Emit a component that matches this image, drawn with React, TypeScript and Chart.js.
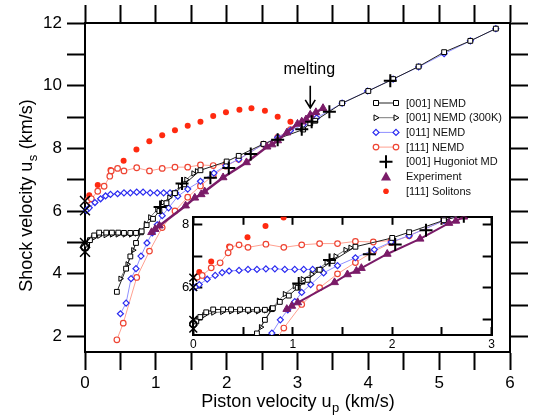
import React, { useEffect, useRef } from 'react';
import { Chart, registerables } from 'chart.js';
Chart.register(...registerables);

const FONT = '"Liberation Sans", Arial, Helvetica, sans-serif';

// ---------------- data: piston velocity u_p (km/s) vs shock velocity u_s (km/s) -------------
const NEMD001_EL_X = [0.03, 0.07, 0.13, 0.2, 0.3, 0.38, 0.47, 0.55, 0.64, 0.72, 0.79];
const NEMD001_EL_Y = [4.93, 5.07, 5.22, 5.31, 5.31, 5.31, 5.31, 5.3, 5.3, 5.3, 5.32];
const NEMD001_PL_X = [0.45, 0.58, 0.64, 0.72, 0.8, 0.87, 0.96, 1.05, 1.15, 1.27, 1.4, 1.63, 2.0, 2.17, 2.52, 3.08, 3.18, 3.25, 3.63, 4.0, 4.35, 4.71, 5.07, 5.44, 5.8];
const NEMD001_PL_Y = [3.42, 4.16, 4.55, 4.98, 5.35, 5.55, 5.75, 6.0, 6.25, 6.57, 6.85, 7.3, 7.58, 7.76, 8.14, 8.6, 8.8, 8.88, 9.44, 9.83, 10.21, 10.61, 11.07, 11.43, 11.82];

const NEMD300_EL_X = [0.05, 0.11, 0.2, 0.29, 0.38, 0.46, 0.56, 0.65, 0.73, 0.79];
const NEMD300_EL_Y = [5.01, 5.13, 5.21, 5.23, 5.25, 5.25, 5.25, 5.25, 5.28, 5.35];
const NEMD300_PL_X = [0.5, 0.6, 0.68, 0.79, 0.86, 0.92, 1.02, 1.1, 1.19, 1.25, 1.34, 1.43, 1.53, 1.58];
const NEMD300_PL_Y = [3.84, 4.3, 4.75, 5.35, 5.59, 5.8, 6.05, 6.27, 6.43, 6.56, 6.8, 7.0, 7.2, 7.27];

const NEMD011_EL_X = [0.02, 0.06, 0.14, 0.22, 0.29, 0.36, 0.46, 0.55, 0.64, 0.73, 0.82, 0.92, 1.02, 1.11, 1.2, 1.28];
const NEMD011_EL_Y = [6.02, 6.1, 6.27, 6.39, 6.48, 6.53, 6.55, 6.58, 6.58, 6.6, 6.6, 6.58, 6.58, 6.58, 6.58, 6.58];
const NEMD011_PL_X = [0.5, 0.58, 0.65, 0.72, 0.79, 0.875, 0.95, 1.02, 1.09, 1.18, 1.31, 1.45, 1.63, 1.82, 1.99, 2.17, 2.52, 2.72, 2.9, 3.08, 3.27, 3.63, 3.99, 4.35, 4.71, 5.07, 5.44, 5.8];
const NEMD011_PL_Y = [2.72, 3.06, 3.84, 4.16, 4.56, 4.98, 5.3, 5.56, 5.85, 6.1, 6.47, 6.7, 6.95, 7.21, 7.45, 7.65, 8.13, 8.35, 8.57, 8.75, 8.97, 9.44, 9.83, 10.21, 10.6, 11.02, 11.43, 11.82];

const NEMD111_EL_X = [0.04, 0.09, 0.18, 0.27, 0.35, 0.37, 0.46, 0.55, 0.73, 0.91, 1.09, 1.27, 1.45, 1.63, 1.81, 1.99];
const NEMD111_EL_Y = [6.34, 6.39, 6.63, 6.79, 7.11, 7.28, 7.36, 7.28, 7.38, 7.28, 7.36, 7.4, 7.4, 7.47, 7.45, 7.5];
const NEMD111_PL_X = [0.45, 0.54, 0.73, 0.91, 1.09, 1.27, 1.45, 1.63, 1.81, 1.99, 2.17, 2.52, 2.72, 2.9, 3.08, 3.25];
const NEMD111_PL_Y = [1.89, 2.42, 3.88, 4.72, 5.47, 6.0, 6.44, 6.8, 7.14, 7.43, 7.65, 8.13, 8.35, 8.6, 8.8, 9.0];

const HUGONIOT_X = [1.06, 1.37, 1.77, 2.03, 2.34, 2.72, 3.06, 3.2, 3.45, 4.31];
const HUGONIOT_Y = [6.13, 6.88, 7.06, 7.37, 7.82, 8.27, 8.61, 8.85, 9.17, 10.16];

const EXP_X = [0.94, 0.99, 1.05, 1.42, 1.55, 1.64, 1.69, 1.95, 2.28, 2.57, 2.64, 2.72, 2.85, 3.0, 3.06, 3.12, 3.18, 3.26, 3.36];
const EXP_Y = [5.32, 5.42, 5.53, 6.17, 6.42, 6.53, 6.62, 7.07, 7.55, 8.05, 8.12, 8.25, 8.5, 8.78, 8.85, 8.92, 9.07, 9.15, 9.28];

const SOLITON_X = [0.06, 0.18, 0.36, 0.545, 0.726, 0.908, 1.09, 1.27, 1.45, 1.63, 1.81, 1.99, 2.18, 2.35, 2.54, 2.72, 2.9];
const SOLITON_Y = [6.5, 6.83, 7.31, 7.6, 7.96, 8.23, 8.42, 8.58, 8.72, 8.85, 9.03, 9.15, 9.23, 9.28, 9.2, 9.01, 8.85];

const ZERO_X = [0, 0, 0, 0, 0];
const ZERO_Y = [6.32, 6.02, 4.98, 4.85, 4.7];
const ZERO_STYLE = ['crossRot', 'crossRot', 'crossRot', 'circle', 'crossRot'];

const MELT_UP = 3.18;
const MELT_ARROW_Y = [10.0, 9.29];
const MELT_TEXT_Y = 10.5;

const X_TICKS = [0, 0.5, 1, 1.5, 2, 2.5, 3, 3.5, 4, 4.5, 5, 5.5, 6];
const Y_TICKS = [2, 3, 4, 5, 6, 7, 8, 9, 10, 11, 12];
const INSET_X_TICKS = [0, 0.5, 1, 1.5, 2, 2.5, 3];
const INSET_Y_TICKS = [5, 6, 7, 8];

const LEGEND_LABELS = ['[001] NEMD', '[001] NEMD (300K)', '[011] NEMD', '[111] NEMD', '[001] Hugoniot MD', 'Experiment', '[111] Solitons'];

// ---------------- colours ----------------
const BLACK = '#000000';
const GRAY_LINE = '#7a7a7a';
const BLUE = '#2b2bf0';
const BLUE_LINE = '#8f8fff';
const RED = '#ee4433';
const RED_LINE = '#ffa090';
const PURPLE = '#7a1b68';
const SOLITON = '#ff2a10';

const pts = (xs: number[], ys: number[]) => xs.map((x, i) => ({ x, y: ys[i] }));
const join = (...branches: [number[], number[]][]) => {
  const out: { x: number; y: number | null }[] = [];
  branches.forEach(([xs, ys], b) => {
    if (b > 0) out.push({ x: xs[0], y: null });
    xs.forEach((x, i) => out.push({ x, y: ys[i] }));
  });
  return out;
};

function buildDatasets(inset: boolean) {
  const clip = inset ? 0 : 12;
  return [
    {
      label: 'zero', data: pts(ZERO_X, ZERO_Y), showLine: false,
      pointStyle: ZERO_STYLE, pointRadius: inset ? [5.5, 5.5, 5.5, 3.5, 5.5] : [7, 7, 7, 4, 7],
      pointBorderColor: BLACK, pointBackgroundColor: 'rgba(0,0,0,0)', pointBorderWidth: 1.5,
      clip: inset ? { left: 10, top: 0, right: 0, bottom: 0 } : 12,
    },
    {
      label: LEGEND_LABELS[4], data: pts(HUGONIOT_X, HUGONIOT_Y), showLine: false,
      pointStyle: 'cross', pointRadius: 6.5, pointBorderColor: BLACK, pointBorderWidth: 2, clip,
    },
    {
      label: LEGEND_LABELS[5], data: pts(EXP_X, EXP_Y), showLine: true,
      borderColor: PURPLE, borderWidth: inset ? 2 : 2.5,
      pointStyle: 'triangle', pointRotation: 240, pointRadius: 4.5,
      pointBackgroundColor: PURPLE, pointBorderColor: PURPLE, pointBorderWidth: 1, clip,
    },
    {
      label: LEGEND_LABELS[0], data: join([NEMD001_EL_X, NEMD001_EL_Y], [NEMD001_PL_X, NEMD001_PL_Y]), showLine: true,
      borderColor: '#222', borderWidth: 1,
      pointStyle: 'rect', pointRadius: 3.4, pointBorderColor: BLACK, pointBackgroundColor: '#fff', pointBorderWidth: 1, clip,
    },
    {
      label: LEGEND_LABELS[1], data: join([NEMD300_EL_X, NEMD300_EL_Y], [NEMD300_PL_X, NEMD300_PL_Y]), showLine: true,
      borderColor: GRAY_LINE, borderWidth: 1,
      pointStyle: 'triangle', pointRotation: 90, pointRadius: 3, pointBorderColor: BLACK, pointBackgroundColor: '#fff', pointBorderWidth: 1, clip,
    },
    {
      label: LEGEND_LABELS[2], data: join([NEMD011_EL_X, NEMD011_EL_Y], [NEMD011_PL_X, NEMD011_PL_Y]), showLine: true,
      borderColor: BLUE_LINE, borderWidth: 1,
      pointStyle: 'rectRot', pointRadius: 3, pointBorderColor: BLUE, pointBackgroundColor: '#fff', pointBorderWidth: 1.2, clip,
    },
    {
      label: LEGEND_LABELS[3], data: join([NEMD111_EL_X, NEMD111_EL_Y], [NEMD111_PL_X, NEMD111_PL_Y]), showLine: true,
      borderColor: RED_LINE, borderWidth: 1,
      pointStyle: 'circle', pointRadius: 2.8, pointBorderColor: RED, pointBackgroundColor: '#fff', pointBorderWidth: 1.2, clip,
    },
    {
      label: LEGEND_LABELS[6], data: pts(SOLITON_X, SOLITON_Y), showLine: false,
      pointStyle: 'circle', pointRadius: 3, pointBorderColor: SOLITON, pointBackgroundColor: SOLITON, pointBorderWidth: 0, clip,
    },
  ];
}

function axis(opts: {
  position: string; min: number; max: number; tickVals: number[]; label?: (v: number) => string;
  size: number; tickLength: number; fontSize?: number; padding?: number; borderWidth: number;
}) {
  const horizontal = opts.position === 'top' || opts.position === 'bottom';
  return {
    type: 'linear', position: opts.position, min: opts.min, max: opts.max, bounds: 'data',
    afterBuildTicks: (s: any) => { s.ticks = opts.tickVals.map((value) => ({ value })); },
    afterFit: (s: any) => { if (horizontal) s.height = opts.size; else s.width = opts.size; },
    ticks: {
      display: !!opts.label,
      callback: (v: any) => (opts.label ? opts.label(Number(v)) : ''),
      autoSkip: false, maxRotation: 0, minRotation: 0,
      padding: opts.padding ?? 0, color: BLACK,
      font: { family: FONT, size: opts.fontSize ?? 12 },
    },
    grid: { drawOnChartArea: false, drawTicks: true, tickLength: opts.tickLength, tickWidth: 2, tickColor: BLACK, color: BLACK },
    border: { display: true, color: BLACK, width: opts.borderWidth },
  };
}

// ---------------- drawing helpers for legend / titles ----------------
function drawSubText(ctx: CanvasRenderingContext2D, a: string, sub: string, b: string, cx: number, cy: number, rot: number) {
  ctx.save();
  ctx.translate(cx, cy);
  ctx.rotate(rot);
  const big = `18px ${FONT}`;
  const small = `13px ${FONT}`;
  ctx.font = big;
  const wa = ctx.measureText(a).width;
  const wb = ctx.measureText(b).width;
  ctx.font = small;
  const ws = ctx.measureText(sub).width;
  let x = -(wa + ws + wb) / 2;
  const base = 6.5;
  ctx.fillStyle = BLACK;
  ctx.textAlign = 'left';
  ctx.textBaseline = 'alphabetic';
  ctx.font = big; ctx.fillText(a, x, base); x += wa;
  ctx.font = small; ctx.fillText(sub, x + 0.5, base + 5); x += ws + 1;
  ctx.font = big; ctx.fillText(b, x, base);
  ctx.restore();
}

function marker(ctx: CanvasRenderingContext2D, kind: string, x: number, y: number) {
  ctx.save();
  ctx.beginPath();
  if (kind === 'square') {
    ctx.rect(x - 2.5, y - 2.5, 5, 5);
    ctx.fillStyle = '#fff'; ctx.fill(); ctx.strokeStyle = BLACK; ctx.lineWidth = 1; ctx.stroke();
  } else if (kind === 'triR') {
    ctx.moveTo(x + 3, y); ctx.lineTo(x - 2, y - 2.8); ctx.lineTo(x - 2, y + 2.8); ctx.closePath();
    ctx.fillStyle = '#fff'; ctx.fill(); ctx.strokeStyle = BLACK; ctx.lineWidth = 1; ctx.stroke();
  } else if (kind === 'diamond') {
    ctx.moveTo(x, y - 3); ctx.lineTo(x + 3, y); ctx.lineTo(x, y + 3); ctx.lineTo(x - 3, y); ctx.closePath();
    ctx.fillStyle = '#fff'; ctx.fill(); ctx.strokeStyle = BLUE; ctx.lineWidth = 1.2; ctx.stroke();
  } else if (kind === 'circle') {
    ctx.arc(x, y, 2.8, 0, Math.PI * 2);
    ctx.fillStyle = '#fff'; ctx.fill(); ctx.strokeStyle = RED; ctx.lineWidth = 1.2; ctx.stroke();
  } else if (kind === 'plus') {
    ctx.moveTo(x - 6.5, y); ctx.lineTo(x + 6.5, y); ctx.moveTo(x, y - 6.5); ctx.lineTo(x, y + 6.5);
    ctx.strokeStyle = BLACK; ctx.lineWidth = 2; ctx.stroke();
  } else if (kind === 'triUp') {
    ctx.moveTo(x, y - 5); ctx.lineTo(x + 5, y + 4); ctx.lineTo(x - 5, y + 4); ctx.closePath();
    ctx.fillStyle = PURPLE; ctx.fill();
  } else if (kind === 'dot') {
    ctx.arc(x, y, 2.8, 0, Math.PI * 2);
    ctx.fillStyle = SOLITON; ctx.fill();
  }
  ctx.restore();
}

const LEGEND_KINDS = [
  { kind: 'square', line: '#222' },
  { kind: 'triR', line: GRAY_LINE },
  { kind: 'diamond', line: BLUE_LINE },
  { kind: 'circle', line: RED_LINE },
  { kind: 'plus', line: '' },
  { kind: 'triUp', line: '' },
  { kind: 'dot', line: '' },
];

const mainDecor = {
  id: 'mainDecor',
  afterDraw(chart: any) {
    const { ctx, chartArea, scales } = chart;
    ctx.save();
    // axis titles
    drawSubText(ctx, 'Piston velocity u', 'p', ' (km/s)', (chartArea.left + chartArea.right) / 2, 400, 0);
    drawSubText(ctx, 'Shock velocity u', 's', ' (km/s)', 25, 196, -Math.PI / 2);

    // melting annotation
    const mx = scales.x.getPixelForValue(MELT_UP);
    const y1 = scales.y.getPixelForValue(MELT_ARROW_Y[0]);
    const y2 = scales.y.getPixelForValue(MELT_ARROW_Y[1]);
    ctx.strokeStyle = BLACK;
    ctx.lineWidth = 1.6;
    ctx.beginPath();
    ctx.moveTo(mx, y1); ctx.lineTo(mx, y2);
    ctx.moveTo(mx - 5, y2 - 8); ctx.lineTo(mx, y2); ctx.lineTo(mx + 5, y2 - 8);
    ctx.stroke();
    ctx.fillStyle = BLACK;
    ctx.font = `16px ${FONT}`;
    ctx.textAlign = 'center';
    ctx.textBaseline = 'middle';
    ctx.fillText('melting', mx - 1, scales.y.getPixelForValue(MELT_TEXT_Y));

    // legend
    const lx = 386, ly0 = 103, dy = 14.7, tx = 406;
    ctx.font = `11px ${FONT}`;
    ctx.textAlign = 'left';
    ctx.textBaseline = 'middle';
    LEGEND_LABELS.forEach((lab, i) => {
      const y = ly0 + i * dy;
      const k = LEGEND_KINDS[i];
      if (k.line) {
        ctx.strokeStyle = k.line; ctx.lineWidth = 1;
        ctx.beginPath(); ctx.moveTo(lx - 10, y); ctx.lineTo(lx + 10, y); ctx.stroke();
        marker(ctx, k.kind, lx - 10, y);
        marker(ctx, k.kind, lx + 10, y);
      } else {
        marker(ctx, k.kind, lx, y);
      }
      ctx.fillStyle = '#111';
      ctx.fillText(lab, tx, y + 0.5);
    });
    ctx.restore();
  },
};

const insetBg = {
  id: 'insetBg',
  beforeDraw(chart: any) {
    const { ctx, chartArea } = chart;
    ctx.save();
    ctx.fillStyle = '#fff';
    ctx.fillRect(chartArea.left, chartArea.top, chartArea.right - chartArea.left, chartArea.bottom - chartArea.top);
    ctx.restore();
  },
};

function mainConfig(): any {
  return {
    type: 'scatter',
    data: { datasets: buildDatasets(false) },
    options: {
      responsive: false, animation: false, devicePixelRatio: 1, events: [],
      layout: { padding: { top: 23, right: 26, left: 0, bottom: 0 } },
      plugins: { legend: { display: false }, tooltip: { enabled: false } },
      scales: {
        x: axis({ position: 'bottom', min: 0, max: 6, tickVals: X_TICKS, label: (v) => (Number.isInteger(v) ? String(v) : ''), size: 67, tickLength: 18, fontSize: 17, padding: 3, borderWidth: 2 }),
        x2: axis({ position: 'top', min: 0, max: 6, tickVals: X_TICKS, size: 0, tickLength: 18, borderWidth: 2 }),
        y: axis({ position: 'left', min: 1.5, max: 12, tickVals: Y_TICKS, label: (v) => (v % 2 === 0 ? String(v) : ''), size: 85, tickLength: 18, fontSize: 17, padding: 5, borderWidth: 2 }),
        y2: axis({ position: 'right', min: 1.5, max: 12, tickVals: Y_TICKS, size: 0, tickLength: 18, borderWidth: 2 }),
      },
    },
    plugins: [mainDecor],
  };
}

function insetConfig(): any {
  return {
    type: 'scatter',
    data: { datasets: buildDatasets(true) },
    options: {
      responsive: false, animation: false, devicePixelRatio: 1, events: [],
      layout: { padding: { top: 10, right: 9, left: 0, bottom: 0 } },
      plugins: { legend: { display: false }, tooltip: { enabled: false } },
      scales: {
        x: axis({ position: 'bottom', min: 0, max: 3, tickVals: INSET_X_TICKS, label: (v) => (Number.isInteger(v) ? String(v) : ''), size: 23, tickLength: -8, fontSize: 12, padding: 10, borderWidth: 2 }),
        x2: axis({ position: 'top', min: 0, max: 3, tickVals: INSET_X_TICKS, size: 0, tickLength: -8, borderWidth: 2 }),
        y: axis({ position: 'left', min: 4.5, max: 8.25, tickVals: INSET_Y_TICKS, label: (v) => (v % 2 === 0 ? String(v) : ''), size: 23.3, tickLength: -9, fontSize: 13, padding: 13, borderWidth: 2 }),
        y2: axis({ position: 'right', min: 4.5, max: 8.25, tickVals: INSET_Y_TICKS, size: 0, tickLength: -9, borderWidth: 2 }),
      },
    },
    plugins: [insetBg],
  };
}

export default function App() {
  const mainRef = useRef<HTMLCanvasElement>(null);
  const insetRef = useRef<HTMLCanvasElement>(null);
  useEffect(() => {
    const main = new Chart(mainRef.current as HTMLCanvasElement, mainConfig());
    const inset = new Chart(insetRef.current as HTMLCanvasElement, insetConfig());
    return () => {
      main.destroy();
      inset.destroy();
    };
  }, []);
  return (
    <div style={{ position: 'absolute', left: 0, top: 0, width: 536, height: 419, background: '#fff', overflow: 'hidden' }}>
      <canvas ref={mainRef} width={536} height={419} style={{ position: 'absolute', left: 0, top: 0, width: 536, height: 419 }} />
      <canvas ref={insetRef} width={335} height={162} style={{ position: 'absolute', left: 170, top: 196, width: 335, height: 162 }} />
    </div>
  );
}
